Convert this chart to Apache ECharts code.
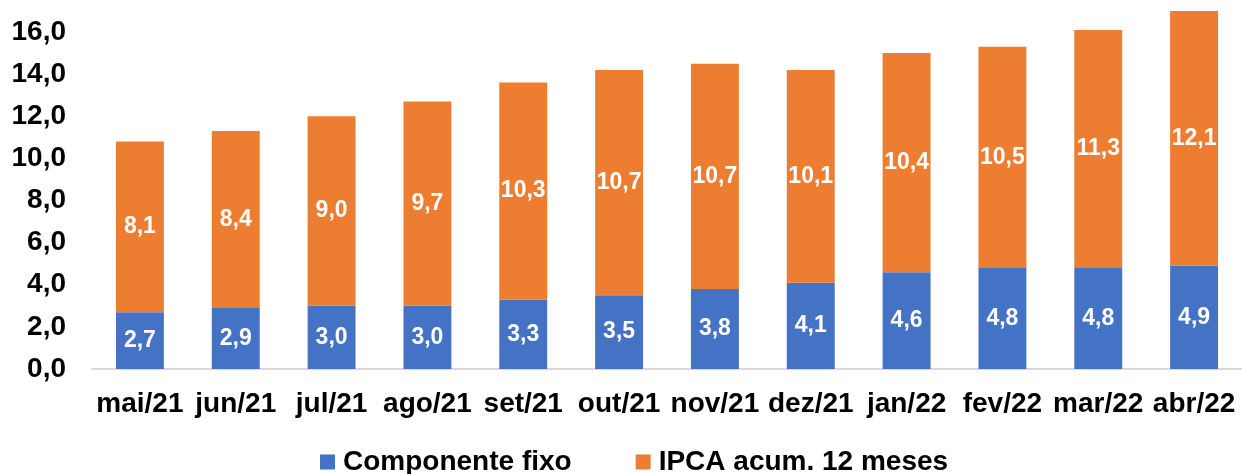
<!DOCTYPE html>
<html><head><meta charset="utf-8">
<script src="https://cdn.jsdelivr.net/npm/echarts@6/dist/echarts.min.js"></script>
<style>html,body{margin:0;padding:0;background:#fff}#c{width:1242px;height:474px}</style>
</head><body><div id="c"></div>
<script>
const categories = ['mai/21','jun/21','jul/21','ago/21','set/21','out/21','nov/21','dez/21','jan/22','fev/22','mar/22','abr/22'];
const componenteFixo = [2.7,2.9,3.0,3.0,3.3,3.5,3.8,4.1,4.6,4.8,4.8,4.9];
const ipca = [8.1,8.4,9.0,9.7,10.3,10.7,10.7,10.1,10.4,10.5,11.3,12.1];
const seriesNames = ['Componente fixo','IPCA acum. 12 meses'];

const FONT = '"Liberation Sans", Arial, sans-serif';
const fmt = v => v.toFixed(1).replace('.', ',');
const chart = echarts.init(document.getElementById('c'));
const lbl = {show:true, position:'inside', color:'#fff', fontWeight:'bold', fontSize:23, fontFamily:FONT,
  formatter: p => fmt(p.value)};
chart.setOption({
  animation:false,
  grid:{left:92, right:0, top:11, bottom:105},
  legend:{top:448, left:320, padding:0, itemWidth:15, itemHeight:15, itemGap:64, icon:'rect',
    textStyle:{fontSize:28, fontWeight:'bold', color:'#000', fontFamily:FONT, padding:[0,0,0,3]}},
  xAxis:{type:'category', data:categories,
    axisLine:{lineStyle:{color:'#D9D9D9', width:2}}, axisTick:{show:false},
    axisLabel:{fontSize:28, fontWeight:'bold', color:'#000', fontFamily:FONT, margin:21, interval:0}},
  yAxis:{type:'value', min:0, max:17, interval:2, splitLine:{show:false},
    axisLine:{show:false}, axisTick:{show:false},
    axisLabel:{fontSize:28, fontWeight:'bold', color:'#000', fontFamily:FONT, margin:26, showMaxLabel:false,
      formatter: v => (v % 2 === 0 ? fmt(v) : '')}},
  series:[
    {name:seriesNames[0], type:'bar', stack:'t', data:componenteFixo, barWidth:'50%',
      itemStyle:{color:'#4472C4'}, label:lbl},
    {name:seriesNames[1], type:'bar', stack:'t', data:ipca, barWidth:'50%',
      itemStyle:{color:'#ED7D31'}, label:lbl}
  ]
});
</script></body></html>
